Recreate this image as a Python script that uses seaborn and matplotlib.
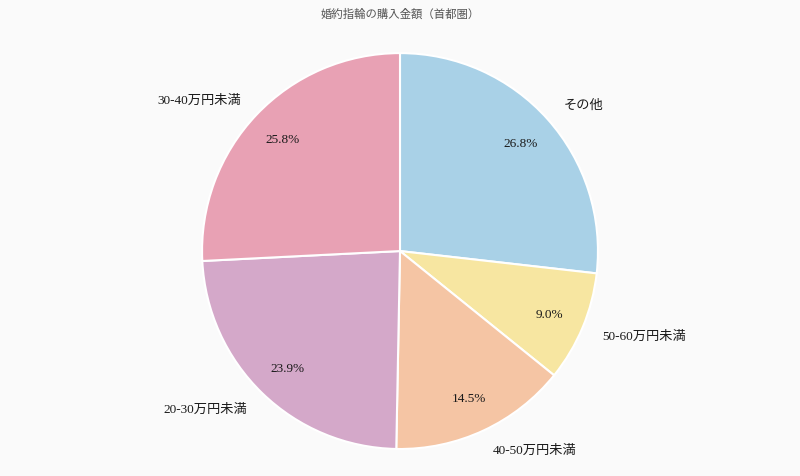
import matplotlib
matplotlib.use("Agg")
import matplotlib.pyplot as plt
import seaborn as sns

# data
labels = ['その他', '50-60万円未満', '40-50万円未満', '20-30万円未満', '30-40万円未満']
shares = [26.8, 9.0, 14.5, 23.9, 25.8]
colors = ['#a9d1e7', '#f7e6a1', '#f5c5a4', '#d4a8c9', '#e8a1b4']
title = '婚約指輪の購入金額（首都圏）'

sns.set_theme(style='white')
plt.rcParams['font.family'] = ['Liberation Serif', 'Noto Sans CJK JP', 'DejaVu Sans']

fig = plt.figure(figsize=(8, 4.77), dpi=100, facecolor='#fafafa')
ax = fig.add_axes([0.2525, 0.0566, 0.495, 0.830])
ax.set_facecolor('#fafafa')

wedges, texts, autotexts = ax.pie(
    shares, labels=labels, colors=colors, startangle=90, counterclock=False,
    autopct='%1.1f%%', pctdistance=0.82, labeldistance=1.11,
    wedgeprops=dict(edgecolor='white', linewidth=1.5),
    textprops=dict(fontsize=9.5, color='#1a1a1a'))
ax.set_xlim(-1, 1)
ax.set_ylim(-1, 1)
ax.set_aspect('equal')

fig.text(0.5, 0.971, title, ha='center', va='center', fontsize=8.2, color='#555555')

plt.savefig('out.png', dpi=100, facecolor=fig.get_facecolor())
